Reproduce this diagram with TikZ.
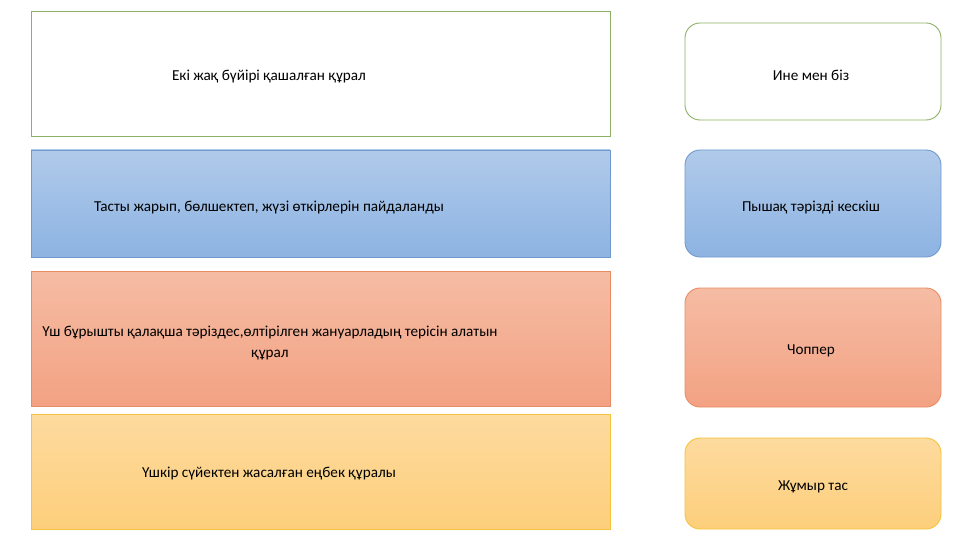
\documentclass[tikz,border=0pt]{standalone}
\usepackage{fontspec}
\setmainfont{Carlito}
\definecolor{gborder}{HTML}{8CB064}
\definecolor{btop}{HTML}{B0CAEA}
\definecolor{bbot}{HTML}{8DB3E2}
\definecolor{bborder}{HTML}{7199CE}
\definecolor{otop}{HTML}{F5BCA4}
\definecolor{obot}{HTML}{F3A283}
\definecolor{oborder}{HTML}{E98B64}
\definecolor{ytop}{HTML}{FDDA9E}
\definecolor{ybot}{HTML}{FDCF7C}
\definecolor{yborder}{HTML}{F5C33C}
\tikzset{
  box/.style={draw, line width=0.9pt, inner sep=0pt},
  lbox/.style={box, minimum width=579pt},
  rbox/.style={box, rounded corners=15pt, minimum width=256pt},
  greenbox/.style={draw=gborder, fill=white},
  bluebox/.style={draw=bborder, top color=btop, bottom color=bbot},
  orangebox/.style={draw=oborder, top color=otop, bottom color=obot},
  yellowbox/.style={draw=yborder, top color=ytop, bottom color=ybot},
  txt/.style={font=\fontsize{15.2}{21}\selectfont, text=black, align=center, inner sep=0pt}
}
\begin{document}
\begin{tikzpicture}[x=1pt,y=-1pt]
\useasboundingbox[fill=white] (0,0) rectangle (960,540);
% left boxes
\node[lbox, greenbox, minimum height=125pt] (l1) at (320.5,73.5) {};
\node[lbox, bluebox, minimum height=107pt] (l2) at (320.5,203.5) {};
\node[lbox, orangebox, minimum height=135pt] (l3) at (320.5,338.5) {};
\node[lbox, yellowbox, minimum height=115pt] (l4) at (320.5,471.5) {};
\node[txt] (t1) at (269,77) {Екі жақ бүйірі қашалған құрал};
\node[txt] (t2) at (269,208) {Тасты жарып, бөлшектеп, жүзі өткірлерін пайдаланды};
\node[txt] (t3) at (270,343) {Үш бұрышты қалақша тәріздес,өлтірілген жануарладың терісін алатын\\құрал};
\node[txt] (t4) at (269,474) {Үшкір сүйектен жасалған еңбек құралы};
% right boxes
\node[rbox, greenbox, minimum height=97pt] (r1) at (813,71.5) {};
\node[rbox, bluebox, minimum height=107pt] (r2) at (813,203.5) {};
\node[rbox, orangebox, minimum height=119pt] (r3) at (813,347.5) {};
\node[rbox, yellowbox, minimum height=91pt] (r4) at (813,483.5) {};
\node[txt] (s1) at (811,75) {Ине мен біз};
\node[txt] (s2) at (811,208) {Пышақ тәрізді кескіш};
\node[txt] (s3) at (811,351) {Чоппер};
\node[txt] (s4) at (813,487) {Жұмыр тас};
\end{tikzpicture}
\end{document}
